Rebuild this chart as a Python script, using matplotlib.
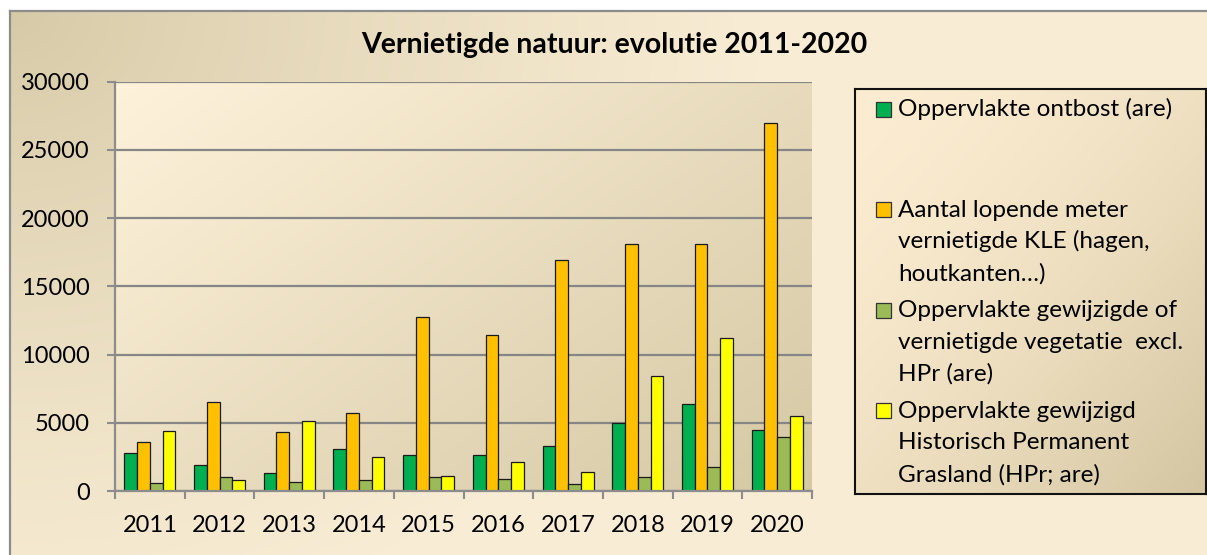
import numpy as np
import matplotlib
matplotlib.use("Agg")
import matplotlib.pyplot as plt
from matplotlib.patches import Rectangle
from matplotlib.colors import to_rgb

# ---------------- data ----------------
years = ["2011", "2012", "2013", "2014", "2015", "2016", "2017", "2018", "2019", "2020"]
ontbost = [2760, 1880, 1300, 3050, 2660, 2660, 3320, 4960, 6350, 4450]
kle_meter = [3570, 6550, 4300, 5720, 12780, 11410, 16900, 18130, 18080, 26970]
vegetatie = [610, 1000, 640, 780, 1000, 880, 490, 1000, 1740, 3930]
hpr = [4400, 830, 5160, 2520, 1120, 2150, 1390, 8430, 11190, 5470]
series_labels = [
    "Oppervlakte ontbost (are)",
    "Aantal lopende meter\nvernietigde KLE (hagen,\nhoutkanten…)",
    "Oppervlakte gewijzigde of\nvernietigde vegetatie  excl.\nHPr (are)",
    "Oppervlakte gewijzigd\nHistorisch Permanent\nGrasland (HPr; are)",
]
title = "Vernietigde natuur: evolutie 2011-2020"
yticks = [0, 5000, 10000, 15000, 20000, 25000, 30000]

colors = ["#00B050", "#FFC000", "#9BBB59", "#FFFF00"]
FONT = "Lato"

W, H = 1207, 555
fig = plt.figure(figsize=(W / 100, H / 100), dpi=100)


def lerp(c1, c2, t):
    c1 = np.array(to_rgb(c1)); c2 = np.array(to_rgb(c2))
    return c1[None, None, :] * (1 - t[..., None]) + c2[None, None, :] * t[..., None]


# ---------------- outer background ----------------
bg = fig.add_axes([0, 0, 1, 1], zorder=-10)
yy, xx = np.mgrid[0:H, 0:W].astype(float)
t = np.clip(np.sqrt(((xx - 10) / 750.0) ** 2 + ((yy - 11) / 620.0) ** 2), 0, 1) ** 0.8
img = lerp("#D6C9A6", "#F8ECD4", t)
img[(yy < 11) | (xx < 10)] = 1.0
bg.imshow(img, extent=[0, W, H, 0], aspect="auto", interpolation="bilinear")
bg.plot([10, W], [11, 11], color="#8C8C8C", lw=1.6)
bg.plot([10, 10], [11, H], color="#8C8C8C", lw=1.6)
bg.set_xlim(0, W); bg.set_ylim(H, 0)
bg.axis("off")

# ---------------- main plot ----------------
L, R, T, B = 115, 812, 81.7, 491
ax = fig.add_axes([L / W, 1 - B / H, (R - L) / W, (B - T) / H])
ax.set_facecolor("none")

gy, gx = np.mgrid[0:200, 0:300].astype(float)
tg = np.clip((gx / 300.0 * 0.55 + gy / 200.0 * 0.45), 0, 1)
pimg = lerp("#FEF2DB", "#D5C8A4", tg)
ax.imshow(pimg, extent=[-0.5, len(years) - 0.5, 0, 30000], aspect="auto",
          zorder=0, interpolation="bilinear")

x = np.arange(len(years))
bw = 0.183
all_series = [ontbost, kle_meter, vegetatie, hpr]
for i, (vals, col) in enumerate(zip(all_series, colors)):
    ax.bar(x + (i - 1.5) * bw, vals, width=bw, color=col, edgecolor="#1a1a1a",
           linewidth=0.9, zorder=3)

ax.set_xlim(-0.5, len(years) - 0.5)
ax.set_ylim(0, 30000)
ax.set_yticks(yticks)
ax.set_yticklabels([str(v) for v in yticks], fontsize=17, family=FONT)
ax.set_xticks(x)
ax.set_xticklabels(years, fontsize=17, family=FONT)
ax.set_xticks(np.arange(len(years) + 1) - 0.5, minor=True)
ax.tick_params(axis="x", which="major", length=0, pad=17)
ax.tick_params(axis="x", which="minor", length=6, width=1.5, color="#8C8C8C", direction="out")
ax.tick_params(axis="y", which="major", length=6, width=1.5, color="#8C8C8C", pad=12)
ax.yaxis.grid(True, color="#868686", linewidth=1.6, zorder=1)
ax.set_axisbelow(True)
for s in ["top", "right"]:
    ax.spines[s].set_visible(False)
for s in ["left", "bottom"]:
    ax.spines[s].set_color("#8C8C8C")
    ax.spines[s].set_linewidth(1.6)
    ax.spines[s].set_zorder(4)

# ---------------- title ----------------
fig.text(614 / W, 1 - 45 / H, title, ha="center", va="center", fontsize=20.5,
         fontweight="bold", family=FONT)

# ---------------- legend ----------------
LX0, LX1, LY0, LY1 = 855, 1206, 89, 494
lg = fig.add_axes([LX0 / W, 1 - LY1 / H, (LX1 - LX0) / W, (LY1 - LY0) / H], zorder=5)
ly, lx = np.mgrid[0:200, 0:200].astype(float)
tl = np.clip((lx / 200.0 * 0.5 + ly / 200.0 * 0.5), 0, 1) ** 1.6
limg = lerp("#FCEDD2", "#D3C5A0", tl)
lg.imshow(limg, extent=[LX0, LX1, LY1, LY0], aspect="auto", interpolation="bilinear")
lg.set_xlim(LX0, LX1); lg.set_ylim(LY1, LY0)
lg.set_xticks([]); lg.set_yticks([])
for s in lg.spines.values():
    s.set_color("#111111"); s.set_linewidth(1.5)

first_base = 116.0
entry_step = 100.5
line_step = 31.8
for i, (lab, col) in enumerate(zip(series_labels, colors)):
    base = first_base + i * entry_step
    lg.add_patch(Rectangle((876, base - 14.5), 15, 15, facecolor=col,
                           edgecolor="#333333", linewidth=0.9, zorder=3))
    for j, line in enumerate(lab.split("\n")):
        lg.text(898, base + j * line_step, line, ha="left", va="baseline",
                fontsize=17.5, family=FONT, zorder=4)

fig.savefig("out.png", dpi=100)
